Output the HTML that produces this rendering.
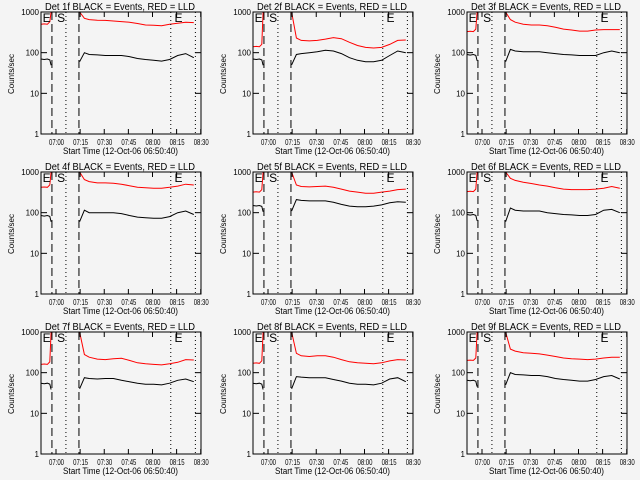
<!DOCTYPE html>
<html><head><meta charset="utf-8"><style>
body{margin:0;background:#f4f4f4;}
svg{display:block;font-family:"Liberation Sans",sans-serif;}
</style></head><body>
<svg id="chart" width="640" height="480" viewBox="0 0 640 480" xmlns="http://www.w3.org/2000/svg">
<rect width="640" height="480" fill="#f4f4f4"/>
</svg>
<script>
const detNames=["1f","2f","3f","4f","5f","6f","7f","8f","9f"];
const postTimes=[24,27,30,35,40,45,50,55,60,65,70,75,80,85,90,95];
const preTimes=[0,2,4,5.5,6.3];
const preRed=[500,140,330,420,320,330,160,170,200];
const preBlack=[70,70,90,85,150,90,55,55,65];
const red1=[1000,700,650,630,620,600,580,560,520,480,470,460,500,530,560,550];
const red2=[1000,230,200,195,200,215,235,220,180,150,135,130,135,160,200,205];
const red3=[1000,650,560,500,480,480,460,420,380,360,340,340,360,370,370,370];
const red4=[1000,650,580,540,540,530,500,460,420,410,400,400,420,450,500,480];
const red5=[1000,480,440,430,440,450,420,380,340,320,300,300,320,340,370,380];
const red6=[1000,700,620,560,520,480,450,410,380,370,370,370,380,400,440,400];
const red7=[1000,280,240,215,210,220,225,200,175,165,160,155,165,180,210,205];
const red8=[1000,300,260,250,260,260,240,210,185,175,170,165,175,195,210,205];
const red9=[1000,380,340,310,300,290,270,250,230,220,215,210,215,230,240,240];
const black1=[60,100,90,88,85,85,85,80,72,68,65,62,68,85,95,75];
const black2=[50,90,95,100,105,115,110,95,75,65,60,60,65,85,110,100];
const black3=[60,120,110,105,105,105,100,95,90,88,85,85,85,100,110,100];
const black4=[60,115,100,100,100,100,95,85,78,75,73,73,80,100,110,90];
const black5=[110,210,200,195,195,195,180,160,145,140,140,145,155,175,185,180];
const black6=[60,130,115,110,110,110,100,95,90,88,85,85,90,115,120,100];
const black7=[40,75,72,70,72,72,65,60,55,52,52,50,55,65,70,60];
const black8=[40,80,78,75,75,75,68,62,55,52,52,50,55,70,75,60];
const black9=[50,100,90,88,85,85,80,72,68,65,62,62,68,80,85,70];
const reds=[red1,red2,red3,red4,red5,red6,red7,red8,red9];
const blacks=[black1,black2,black3,black4,black5,black6,black7,black8,black9];
const xTickLabels=["07:00","07:15","07:30","07:45","08:00","08:15","08:30"];
const xTickTimes=[9.33,24.33,39.33,54.33,69.33,84.33,99.33];
const yTicks=[1,10,100,1000];
const dashedTimes=[6.8,23.6];
const dottedTimes=[15.5,80.7,96];

const svg=document.getElementById('chart');
const NS='http://www.w3.org/2000/svg';
function mk(tag,attrs,parent){const e=document.createElementNS(NS,tag);for(const k in attrs)e.setAttribute(k,attrs[k]);(parent||svg).appendChild(e);return e;}
const lefts=[41,253,467], tops=[12,172,332], W=160, H=122, TMAX=99.5;

for(let i=0;i<9;i++){
  const L=lefts[i%3], T=tops[Math.floor(i/3)];
  const g=mk('g',{});
  
  
  const xs=t=>L+t*W/TMAX;
  const ys=v=>{const c=Math.max(1,Math.min(1000,v));return T+H-(Math.log10(c)/3)*H;};
  const t1=mk('text',{x:L+4,y:T-2,'font-size':10,textLength:150,lengthAdjust:'spacingAndGlyphs',fill:'#000'},g);
  t1.textContent='Det '+detNames[i]+' BLACK = Events, RED = LLD';
  
  
  const drawSeries=(times,vals,color,name)=>{
    const p=mk('polyline',{points:times.map((t,k)=>xs(t).toFixed(1)+','+ys(vals[k]).toFixed(1)).join(' '),fill:'none',stroke:color,'stroke-width':1},g);
    
    
  };
  const pr=preRed[i], pb=preBlack[i];
  drawSeries(preTimes,[pr,pr*1.02,pr,pr*1.15,1500],'#ff0000','lld-pre');
  drawSeries(preTimes,[pb,pb*0.97,pb,pb*0.95,pb*0.7],'#000','events-pre');
  drawSeries(postTimes,reds[i],'#ff0000','lld-series');
  drawSeries(postTimes,blacks[i],'#000','events-series');
  dashedTimes.forEach(t=>{const l=mk('line',{x1:xs(t),x2:xs(t),y1:T,y2:T+H,stroke:'#000','stroke-dasharray':'8,4'},g);});
  dottedTimes.forEach(t=>{const l=mk('line',{x1:xs(t),x2:xs(t),y1:T,y2:T+H,stroke:'#000','stroke-dasharray':'1,3'},g);});
  [['E',1],['S',10],['E',83]].forEach(([s,t])=>{const tx=mk('text',{x:xs(t),y:T+10,'font-size':12,fill:'#000'},g);tx.textContent=s;});
  const b=mk('rect',{x:L,y:T,width:W,height:H,fill:'none',stroke:'#000'},g);
  
  
  yTicks.forEach(v=>{const y=ys(v);
    mk('line',{x1:L,x2:L+6,y1:y,y2:y,stroke:'#000'},g);mk('line',{x1:L+W-6,x2:L+W,y1:y,y2:y,stroke:'#000'},g);
    const tl=mk('text',{x:L-2,y:y+3,'font-size':8,'text-anchor':'end',fill:'#000'},g);tl.textContent=String(v);
    });
  xTickTimes.forEach((t,k)=>{const x=xs(t);
    if(t<TMAX){mk('line',{x1:x,x2:x,y1:T+H,y2:T+H-5,stroke:'#000'},g);mk('line',{x1:x,x2:x,y1:T,y2:T+5,stroke:'#000'},g);}
    const tl=mk('text',{x:x-7,y:T+H+11,'font-size':8,textLength:15,lengthAdjust:'spacingAndGlyphs',fill:'#000'},g);tl.textContent=xTickLabels[k];
    });
  const xl=mk('text',{x:L+22,y:T+H+20,'font-size':9,textLength:115,lengthAdjust:'spacingAndGlyphs',fill:'#000'},g);
  xl.textContent='Start Time (12-Oct-06 06:50:40)';
  
  
  const yl=mk('text',{x:-20,y:0,'font-size':8,textLength:40,lengthAdjust:'spacingAndGlyphs',fill:'#000',transform:'translate('+(L-27)+','+(T+62)+') rotate(-90)'},g);
  yl.textContent='Counts/sec';
  
  
}
</script>
</body></html>
